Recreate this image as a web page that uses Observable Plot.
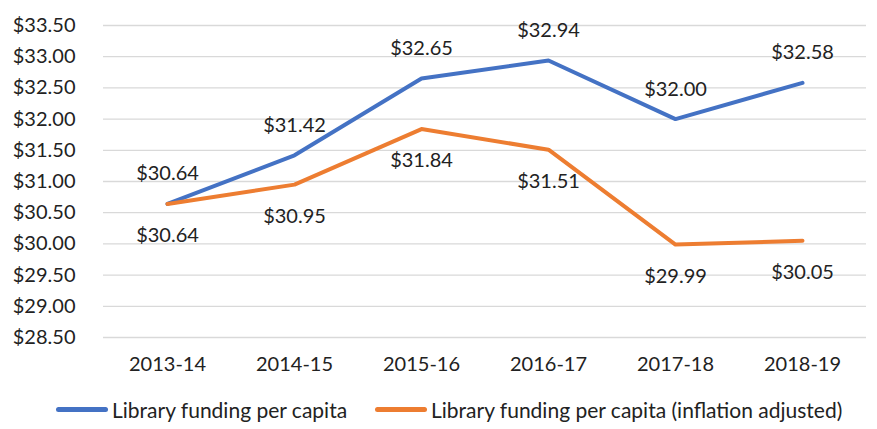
<!DOCTYPE html>
<html>
<head>
<meta charset="utf-8">
<script src="https://cdn.jsdelivr.net/npm/d3@7"></script>
<script src="https://cdn.jsdelivr.net/npm/@observablehq/plot@0.6"></script>
<style>
  body { margin: 0; background: #fff; font-family: Lato, "Open Sans", sans-serif; }
  #wrap { width: 877px; position: relative; }
  .legend { position: relative; height: 39px; font-size: 21px; color: #222; }
  .item { position: absolute; top: 7px; display: flex; align-items: center; }
  .swatch { width: 52px; height: 5px; border-radius: 3px; margin-right: 4px; }
</style>
</head>
<body>
<div id="wrap"></div>
<script>
const years = ["2013-14", "2014-15", "2015-16", "2016-17", "2017-18", "2018-19"];
const funding = [30.64, 31.42, 32.65, 32.94, 32.00, 32.58];
const fundingAdj = [30.64, 30.95, 31.84, 31.51, 29.99, 30.05];
const seriesNames = ["Library funding per capita", "Library funding per capita (inflation adjusted)"];
const colors = ["#4472C4", "#ED7D31"];
const yTicks = [28.5, 29, 29.5, 30, 30.5, 31, 31.5, 32, 32.5, 33, 33.5];

const data = [
  ...years.map((y, i) => ({year: y, value: funding[i], series: seriesNames[0]})),
  ...years.map((y, i) => ({year: y, value: fundingAdj[i], series: seriesNames[1]}))
];
const fmt = d3.format("$.2f");

const chart = Plot.plot({
  width: 877,
  height: 390,
  marginLeft: 103,
  marginRight: 11,
  marginTop: 25,
  marginBottom: 53,
  style: {fontFamily: "Lato, 'Open Sans', sans-serif", fontSize: "20px", color: "#222", background: "#fff"},
  x: {type: "point", domain: years, padding: 0.5, label: null},
  y: {domain: [28.5, 33.5], label: null},
  color: {domain: seriesNames, range: colors},
  marks: [
    Plot.ruleY(yTicks, {stroke: "#d9d9d9", strokeWidth: 1.3}),
    Plot.axisY(yTicks, {tickSize: 0, tickPadding: 28, tickFormat: fmt, fontSize: 20, label: null}),
    Plot.axisX({tickSize: 0, tickPadding: 19, fontSize: 20, label: null}),
    Plot.line(data, {x: "year", y: "value", z: "series", stroke: "series", strokeWidth: 4, strokeLinecap: "round", strokeLinejoin: "round"}),
    Plot.text(data.filter(d => d.series === seriesNames[0]), {x: "year", y: "value", text: d => fmt(d.value), dy: -30, fontSize: 20, fill: "#222"}),
    Plot.text(data.filter(d => d.series === seriesNames[1]), {x: "year", y: "value", text: d => fmt(d.value), dy: 32, fontSize: 20, fill: "#222"})
  ]
});
const wrap = document.getElementById("wrap");
wrap.appendChild(chart);

const legend = document.createElement("div");
legend.className = "legend";
const lefts = [56, 375];
seriesNames.forEach((name, i) => {
  const item = document.createElement("div");
  item.className = "item";
  item.style.left = lefts[i] + "px";
  const sw = document.createElement("div");
  sw.className = "swatch";
  sw.style.background = colors[i];
  const t = document.createElement("span");
  t.textContent = name;
  item.appendChild(sw);
  item.appendChild(t);
  legend.appendChild(item);
});
wrap.appendChild(legend);
</script>
</body>
</html>
